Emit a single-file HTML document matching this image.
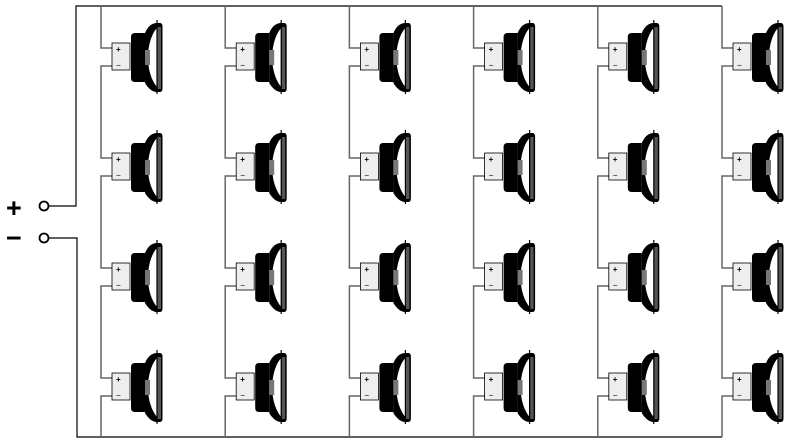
<!DOCTYPE html>
<html><head><style>html,body{margin:0;padding:0;background:#fff;}svg{display:block}</style></head>
<body>
<svg width="792" height="443" viewBox="0 0 792 443" xmlns="http://www.w3.org/2000/svg" font-family="Liberation Sans, sans-serif">
<defs>
<g id="spk">
  <rect x="0" y="0" width="18" height="27" fill="#eee" stroke="#000" stroke-width="0.8"/>
  <text x="4" y="9" font-size="8" font-weight="bold">+</text>
  <text x="4" y="25" font-size="8" font-weight="bold" fill="#555">−</text>
  <path d="M23,-10 L33,-10 L33,39 L23,39 Q19,39 19,35 L19,-6 Q19,-10 23,-10 Z" fill="#000"/>
  <path d="M33,-10 C36,-17 40,-20 45,-20 L48,-20 Q50.5,-20 50.5,-16 L50.5,45 Q50.5,49 48,49 L45,49 C40,49 36,45 33,40 Z" fill="#000"/>
  <rect x="45.5" y="-16" width="3.5" height="62" fill="#555"/>
  <path d="M45,-15 C40,-10 36,2 36,14 C36,28 40,38 45,44 Z" fill="#fff"/>
  <rect x="33" y="7" width="5" height="15" fill="#777"/>
  <line x1="45" y1="-23" x2="45" y2="51" stroke="#000" stroke-width="1.2"/>
</g>
</defs>
<text x="6" y="217" font-size="27" font-weight="bold">+</text>
<text x="6" y="247" font-size="27" font-weight="bold">−</text>
<circle cx="44" cy="206" r="4.5" fill="#fff" stroke="#000" stroke-width="1.8"/>
<circle cx="44" cy="238" r="4.5" fill="#fff" stroke="#000" stroke-width="1.8"/>
<path d="M48.5,206 H76 V6 H722" fill="none" stroke="#000" stroke-width="1.2"/>
<path d="M48.5,238 H77 V437 H722" fill="none" stroke="#000" stroke-width="1.2"/>
<g id="col">
  <path d="M101,6 V48 H112 M112,66 H101 V158 H112 M112,176 H101 V268 H112 M112,286 H101 V378 H112 M112,396 H101 V437" fill="none" stroke="#666" stroke-width="1.5"/>
  <use href="#spk" x="112" y="43"/>
  <use href="#spk" x="112" y="153"/>
  <use href="#spk" x="112" y="263"/>
  <use href="#spk" x="112" y="373"/>
</g>
<use href="#col" x="124.2"/>
<use href="#col" x="248.4"/>
<use href="#col" x="372.6"/>
<use href="#col" x="496.8"/>
<use href="#col" x="621"/>
</svg>
</body></html>
